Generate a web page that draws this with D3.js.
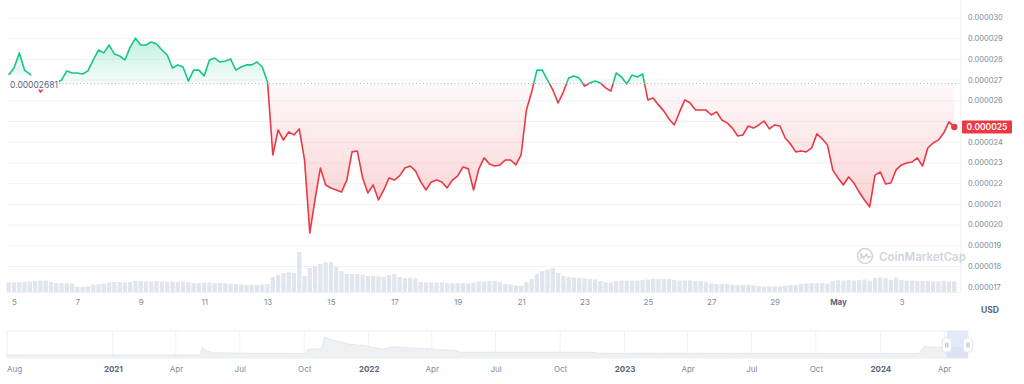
<!DOCTYPE html>
<html>
<head>
<meta charset="utf-8">
<script src="https://cdn.jsdelivr.net/npm/d3@7"></script>
<style>
  body { margin: 0; background: #fff; }
  text { font-family: Inter, "Noto Sans", sans-serif; }
</style>
</head>
<body>
<div id="chart"></div>
<script>
// price every 4 hours starting 2024-04-04 20:00 (unit: 1e-6 USD)
const startTime = new Date(2024, 3, 4, 20);
const stepHours = 4;
const prices = [
  27.22, 27.56, 28.29, 27.46, 27.27, 26.89, 26.40, 26.69, 26.79, 26.84,
  26.98, 27.42, 27.32, 27.32, 27.27, 27.42, 27.95, 28.43, 28.29, 28.67,
  28.24, 28.14, 27.95, 28.58, 29.00, 28.67, 28.67, 28.82, 28.72, 28.43,
  28.19, 27.56, 27.71, 27.61, 26.93, 27.46, 27.46, 27.18, 27.95, 28.04,
  27.85, 27.90, 28.00, 27.46, 27.61, 27.71, 27.71, 27.85, 27.61, 26.89,
  23.36, 24.57, 24.08, 24.47, 24.33, 24.62, 23.12, 19.59, 21.24, 22.73,
  21.91, 21.77, 21.67, 21.57, 22.15, 23.51, 23.55, 22.25, 21.53, 21.91,
  21.19, 21.67, 22.25, 22.15, 22.35, 22.73, 22.83, 22.59, 22.06, 21.67,
  22.06, 22.15, 22.06, 21.77, 22.15, 22.35, 22.78, 22.69, 21.67, 22.69,
  23.22, 22.93, 22.83, 22.88, 23.12, 23.12, 22.88, 23.36, 25.53, 26.40,
  27.46, 27.46, 26.98, 26.50, 25.87, 26.40, 27.08, 27.18, 27.08, 26.69,
  26.84, 26.93, 26.84, 26.60, 26.45, 27.32, 27.13, 26.79, 27.22, 27.13,
  27.27, 26.02, 26.11, 25.78, 25.49, 25.10, 24.81, 25.44, 26.02, 25.87,
  25.53, 25.53, 25.53, 25.29, 25.44, 25.05, 24.91, 24.66, 24.28, 24.33,
  24.76, 24.66, 24.81, 25.00, 24.62, 24.81, 24.76, 24.18, 23.89, 23.51,
  23.55, 23.51, 23.70, 24.38, 24.14, 23.84, 22.64, 22.25, 21.91, 22.30,
  22.01, 21.57, 21.19, 20.85, 22.39, 22.54, 21.96, 22.01, 22.64, 22.88,
  22.97, 23.02, 23.22, 22.83, 23.70, 23.94, 24.08, 24.42, 24.96, 24.71
];
// volume for the same 4h steps (relative units)
const volumes = [
  9.5, 9.5, 10, 10, 10.5, 11, 11.5, 11.5, 10, 9,
  9, 8.5, 8.5, 5, 5, 5.5, 7.5, 8, 8.5, 9.5,
  10, 10, 9.5, 10, 11, 11, 10.5, 10.5, 11, 10.5,
  10, 10.5, 10, 10.5, 10, 9, 9, 9.5, 9.5, 9,
  9, 9, 8.5, 8, 7.5, 7, 7, 7, 7.5, 8,
  15, 17, 19, 19.5, 19, 40, 16, 24, 26, 28,
  29.5, 30, 25, 21, 18, 18, 18, 17.5, 16, 16,
  15.5, 15, 17, 18, 15, 14, 14, 13.5, 10, 9.5,
  9.5, 9.5, 9.5, 9, 9, 9, 9, 8.5, 9.5, 10.5,
  10.5, 11, 11, 10, 8, 7.5, 6.5, 6, 10, 13,
  18, 21, 22.5, 24, 19, 16, 15, 14.5, 14, 13.5,
  13, 12.5, 11, 9.5, 9.5, 11, 11.5, 11.5, 11.5, 11.5,
  12, 12.5, 13, 13, 13, 13, 12, 11.5, 11.5, 11.5,
  11, 11, 10, 8.5, 8, 8, 8, 7.5, 7, 7,
  7, 6.5, 6, 5.5, 5.5, 5.5, 5.5, 6.5, 7, 7,
  8, 8.5, 9, 9, 9, 8.5, 11, 11.5, 11.5, 12,
  11.5, 12, 12.5, 11.5, 14, 14.5, 14, 12, 14.5, 12,
  11.5, 11.5, 11, 11, 11, 10.5, 10.5, 11, 10.5, 10.5
];
const baseline = 0.00002681;
const yTicks = [0.000017, 0.000018, 0.000019, 0.000020, 0.000021, 0.000022, 0.000023,
  0.000024, 0.000025, 0.000026, 0.000027, 0.000028, 0.000029, 0.000030];

// navigator (full history, relative units)
const navDates = ["2020-08-03", "2021-05-05", "2021-05-09", "2021-05-15", "2021-05-24", "2021-07-15",
  "2021-10-03", "2021-10-06", "2021-10-26", "2021-10-30", "2021-11-07", "2021-11-21", "2021-12-05",
  "2021-12-29", "2022-01-21", "2022-02-04", "2022-03-11", "2022-04-03", "2022-05-07", "2022-05-11",
  "2022-11-17", "2022-11-25", "2024-02-25", "2024-03-03", "2024-03-29", "2024-05-05"];
const navValues = [3, 3, 10.7, 7.3, 5.3, 4.7, 4.5, 8.7, 9.3, 21.3, 18.7, 16.3, 13.7,
  12, 8.7, 11.3, 9.7, 9, 7.3, 5.7, 5.7, 4.7, 4.5, 11.3, 10.7, 9.7];

const green = "#16c784", red = "#ea3943";

const svg = d3.select("#chart").append("svg")
  .attr("width", 1024)
  .attr("height", 384);

const data = prices.map((p, i) => ({
  t: new Date(startTime.getTime() + i * stepHours * 3600e3),
  p: p * 1e-6,
  v: volumes[i]
}));
const last = data[data.length - 1];

const x = d3.scaleTime()
  .domain([new Date(2024, 3, 4, 18, 42), new Date(2024, 4, 4, 21, 7)])
  .range([7, 961]);
const y = d3.scaleLinear().domain([0.000017, 0.000030]).range([286.7, 17.5]);
const yVol = d3.scaleLinear().domain([0, 50]).range([292, 242]);
const yBase = y(baseline);

// gradients
const defs = svg.append("defs");
const gGreen = defs.append("linearGradient").attr("id", "gGreen")
  .attr("gradientUnits", "userSpaceOnUse").attr("x1", 0).attr("x2", 0).attr("y1", 35).attr("y2", yBase);
gGreen.append("stop").attr("offset", 0).attr("stop-color", green).attr("stop-opacity", 0.28);
gGreen.append("stop").attr("offset", 1).attr("stop-color", green).attr("stop-opacity", 0.04);
const gRed = defs.append("linearGradient").attr("id", "gRed")
  .attr("gradientUnits", "userSpaceOnUse").attr("x1", 0).attr("x2", 0).attr("y1", yBase).attr("y2", 235);
gRed.append("stop").attr("offset", 0).attr("stop-color", red).attr("stop-opacity", 0.03);
gRed.append("stop").attr("offset", 1).attr("stop-color", red).attr("stop-opacity", 0.26);

defs.append("clipPath").attr("id", "clipUp").append("rect")
  .attr("x", 0).attr("y", 0).attr("width", 1024).attr("height", yBase);
defs.append("clipPath").attr("id", "clipDown").append("rect")
  .attr("x", 0).attr("y", yBase).attr("width", 1024).attr("height", 384 - yBase);

// y axis + grid
const yAxis = svg.append("g")
  .attr("transform", "translate(961,0)")
  .call(d3.axisRight(y).tickValues(yTicks).tickSize(-954).tickPadding(7).tickFormat(d3.format(".6f")));
yAxis.select(".domain").remove();
yAxis.selectAll("line").attr("stroke", "#f2f3f6");
yAxis.selectAll("text").attr("fill", "#808a9d").attr("font-size", 7.5)
  // tick hidden under the current price tag
  .style("display", d => Math.abs(y(d) - y(last.p)) < 10 ? "none" : null);

// frame lines
svg.append("line").attr("x1", 961).attr("x2", 961).attr("y1", 0).attr("y2", 293).attr("stroke", "#eceef2");
svg.append("line").attr("x1", 7).attr("x2", 961).attr("y1", 292.5).attr("y2", 292.5).attr("stroke", "#eceef2");

// watermark
const wm = svg.append("g").attr("transform", "translate(865,256)");
wm.append("circle").attr("r", 7.5).attr("fill", "none").attr("stroke", "#cfd4df").attr("stroke-width", 1.6);
wm.append("path").attr("d", "M-4,3 V-2 L-1.3,2 L1.3,-2 L3,1.5 L6,0")
  .attr("fill", "none").attr("stroke", "#cfd4df").attr("stroke-width", 1.6);
svg.append("text").attr("x", 879).attr("y", 260.5).attr("font-size", 11.5).attr("font-weight", 600)
  .attr("fill", "#cfd4df").text("CoinMarketCap");

// volume bars
const barW = x(data[1].t) - x(data[0].t);
svg.append("g").selectAll("rect").data(data).join("rect")
  .attr("x", d => x(d.t) - barW / 2 + 0.5)
  .attr("y", d => yVol(d.v))
  .attr("width", barW - 1)
  .attr("height", d => yVol(0) - yVol(d.v))
  .attr("fill", "#e1e5ee");

// x axis
const xAxis = svg.append("g")
  .attr("transform", "translate(0,293)")
  .call(d3.axisBottom(x).ticks(d3.timeDay.every(2)).tickSize(0).tickPadding(6)
    .tickFormat(d => d.getDate() === 1 ? d3.timeFormat("%b")(d) : d.getDate()));
xAxis.select(".domain").remove();
xAxis.selectAll("text").attr("font-size", 8)
  .attr("fill", d => d.getDate() === 1 ? "#58667e" : "#808a9d")
  .attr("font-weight", d => d.getDate() === 1 ? 700 : 400);

svg.append("text").attr("x", 990).attr("y", 313).attr("text-anchor", "middle")
  .attr("font-size", 8.5).attr("font-weight", 700).attr("fill", "#58667e").text("USD");

// price area + line
const area = d3.area().x(d => x(d.t)).y0(yBase).y1(d => y(d.p));
const line = d3.line().x(d => x(d.t)).y(d => y(d.p));

const up = svg.append("g").attr("clip-path", "url(#clipUp)");
const down = svg.append("g").attr("clip-path", "url(#clipDown)");
up.append("path").datum(data).attr("d", area).attr("fill", "url(#gGreen)");
down.append("path").datum(data).attr("d", area).attr("fill", "url(#gRed)");

svg.append("line").attr("x1", 59).attr("x2", 961).attr("y1", yBase).attr("y2", yBase)
  .attr("stroke", "#9aa3b3").attr("stroke-width", 0.8).attr("stroke-dasharray", "1,2.5");

up.append("path").datum(data).attr("d", line).attr("fill", "none")
  .attr("stroke", green).attr("stroke-width", 1.6).attr("stroke-linejoin", "round");
down.append("path").datum(data).attr("d", line).attr("fill", "none")
  .attr("stroke", red).attr("stroke-width", 1.6).attr("stroke-linejoin", "round");

// baseline label
svg.append("rect").attr("x", 8).attr("y", 75.5).attr("width", 51).attr("height", 14).attr("fill", "#fff");
svg.append("text").attr("x", 10).attr("y", yBase + 4).attr("font-size", 8.5)
  .attr("fill", "#58667e").text(d3.format(".8f")(baseline));

// last price
svg.append("circle").attr("cx", x(last.t)).attr("cy", y(last.p)).attr("r", 3.2).attr("fill", red);
svg.append("rect").attr("x", 962).attr("y", y(last.p) - 6.5).attr("width", 50).attr("height", 13)
  .attr("rx", 1).attr("fill", red);
svg.append("text").attr("x", 987).attr("y", y(last.p) + 3).attr("text-anchor", "middle")
  .attr("font-size", 8.5).attr("font-weight", 600).attr("fill", "#fff")
  .text(d3.format(".6f")(last.p));

// navigator
const parse = d3.timeParse("%Y-%m-%d");
const nav = navDates.map((d, i) => ({ t: parse(d), v: navValues[i] }));
const xNav = d3.scaleTime().domain([parse("2020-08-03"), parse("2024-05-05")]).range([7, 968]);
const yNav = d3.scaleLinear().domain([0, 25]).range([358, 333]);
const navTicks = d3.timeMonth.every(3).range(new Date(2021, 0, 1), new Date(2024, 4, 5));

svg.append("rect").attr("x", 7).attr("y", 331).attr("width", 961).attr("height", 27)
  .attr("fill", "none").attr("stroke", "#eceef2");
svg.append("g").selectAll("line").data(navTicks).join("line")
  .attr("x1", d => xNav(d)).attr("x2", d => xNav(d)).attr("y1", 331).attr("y2", 358)
  .attr("stroke", "#f0f1f5");
svg.append("path").datum(nav)
  .attr("d", d3.area().x(d => xNav(d.t)).y0(358).y1(d => yNav(d.v)))
  .attr("fill", "#eef0f4");
svg.append("path").datum(nav)
  .attr("d", d3.line().x(d => xNav(d.t)).y(d => yNav(d.v)))
  .attr("fill", "none").attr("stroke", "#e0e3ea").attr("stroke-width", 0.8);

const navAxis = svg.append("g").attr("transform", "translate(0,358)")
  .call(d3.axisBottom(xNav).tickValues(navTicks).tickSize(0).tickPadding(8)
    .tickFormat(d => d.getMonth() === 0 ? d3.timeFormat("%Y")(d) : d3.timeFormat("%b")(d)));
navAxis.select(".domain").remove();
navAxis.selectAll("text").attr("font-size", 8)
  .attr("fill", d => d.getMonth() === 0 ? "#58667e" : "#808a9d")
  .attr("font-weight", d => d.getMonth() === 0 ? 700 : 400);
svg.append("text").attr("x", 7).attr("y", 372).attr("font-size", 8).attr("fill", "#808a9d").text("Aug");

// selected window
const selX0 = xNav(x.domain()[0]);
svg.append("rect").attr("x", selX0).attr("y", 331).attr("width", 968 - selX0).attr("height", 27)
  .attr("fill", "#c9d3f3").attr("opacity", 0.5);
[selX0, 968].forEach(hx => {
  const h = svg.append("g").attr("transform", `translate(${hx},345)`);
  h.append("rect").attr("x", -4.5).attr("y", -7).attr("width", 9).attr("height", 14).attr("rx", 3)
    .attr("fill", "#fff").attr("stroke", "#e3e6ee");
  h.append("line").attr("x1", -1).attr("x2", -1).attr("y1", -2.5).attr("y2", 2.5).attr("stroke", "#a6b0c3");
  h.append("line").attr("x1", 1).attr("x2", 1).attr("y1", -2.5).attr("y2", 2.5).attr("stroke", "#a6b0c3");
});
</script>
</body>
</html>
